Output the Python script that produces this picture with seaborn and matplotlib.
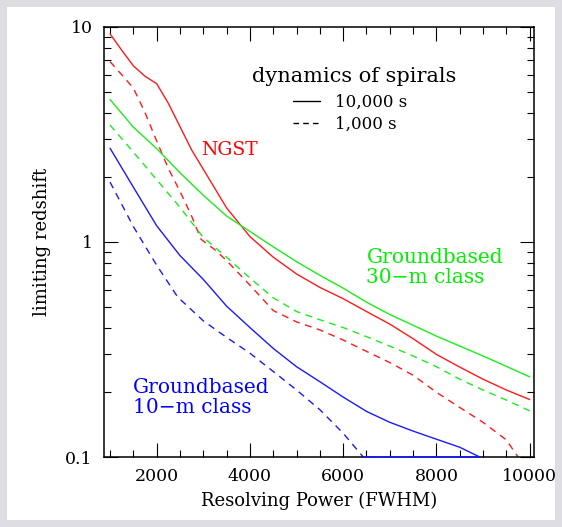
import numpy as np
import pandas as pd
import seaborn as sns
import matplotlib.pyplot as plt
from matplotlib.lines import Line2D
from matplotlib.patches import Rectangle
from matplotlib.ticker import MultipleLocator, FixedLocator, FixedFormatter, NullFormatter

# # Data (limiting redshift vs resolving power)
ngst_long_x = [1000, 1250, 1500, 1750, 2000, 2250, 2500, 2750, 3000, 3500, 4000, 4500,
               5000, 5500, 6000, 6500, 7000, 7500, 8000, 8500, 9000, 9500, 10000]
ngst_long_z = [9.3, 7.8, 6.6, 5.9, 5.45, 4.42, 3.44, 2.68, 2.18, 1.44, 1.06, 0.85,
               0.71, 0.615, 0.545, 0.475, 0.415, 0.355, 0.30, 0.262, 0.23, 0.205, 0.185]

ngst_short_x = [1000, 1250, 1500, 1750, 2000, 2250, 2500, 2750, 2950, 3250, 3500, 4000,
                4500, 5000, 5500, 6000, 6500, 7000, 7500, 8000, 8500, 9000, 9500, 9750]
ngst_short_z = [6.9, 6.0, 5.2, 4.0, 2.95, 2.2, 1.72, 1.32, 1.03, 0.92, 0.82, 0.63,
                0.48, 0.425, 0.39, 0.35, 0.31, 0.275, 0.24, 0.2, 0.17, 0.145, 0.12, 0.1]

gb30_x = [1000, 1500, 2000, 2500, 3000, 3500, 4000, 4500, 5000, 5500,
          6000, 6500, 7000, 7500, 8000, 8500, 9000, 9500, 10000]
gb30_long_z = [4.6, 3.42, 2.72, 2.1, 1.65, 1.32, 1.12, 0.95, 0.81, 0.70,
               0.61, 0.525, 0.46, 0.41, 0.365, 0.328, 0.295, 0.264, 0.236]
gb30_short_z = [3.5, 2.62, 1.95, 1.45, 1.05, 0.85, 0.68, 0.55, 0.475, 0.435,
                0.40, 0.363, 0.328, 0.295, 0.263, 0.23, 0.205, 0.184, 0.164]

gb10_long_x = [1000, 1500, 2000, 2500, 3000, 3500, 4000, 4500, 5000,
               5500, 6000, 6500, 7000, 7500, 8000, 8500, 8930]
gb10_long_z = [2.73, 1.8, 1.19, 0.865, 0.67, 0.503, 0.40, 0.32, 0.263,
               0.224, 0.19, 0.163, 0.145, 0.132, 0.121, 0.111, 0.1]

gb10_short_x = [1000, 1500, 2000, 2450, 3000, 3500, 4000, 4500, 5000, 5500, 6000, 6430]
gb10_short_z = [1.9, 1.18, 0.78, 0.555, 0.43, 0.36, 0.304, 0.25, 0.205, 0.166, 0.129, 0.1]

exposures = ["10,000 s", "1,000 s"]
colors = {"NGST": "#ff1a1a", "Groundbased 30-m": "#1aee1a", "Groundbased 10-m": "#1a1aff"}

frames = []
for tel, exp, xs, zs in [
    ("NGST", "10,000 s", ngst_long_x, ngst_long_z),
    ("NGST", "1,000 s", ngst_short_x, ngst_short_z),
    ("Groundbased 30-m", "10,000 s", gb30_x, gb30_long_z),
    ("Groundbased 30-m", "1,000 s", gb30_x, gb30_short_z),
    ("Groundbased 10-m", "10,000 s", gb10_long_x, gb10_long_z),
    ("Groundbased 10-m", "1,000 s", gb10_short_x, gb10_short_z),
]:
    frames.append(pd.DataFrame({"R": xs, "z": zs, "telescope": tel, "exposure": exp}))
df = pd.concat(frames, ignore_index=True)

sns.set_style("ticks")
plt.rcParams["font.family"] = ["DejaVu Serif"]
plt.rcParams["text.color"] = "black"
plt.rcParams["axes.labelcolor"] = "black"

fig = plt.figure(figsize=(5.62, 5.27), dpi=100)
fig.patch.set_facecolor("#dedde4")
fig.patches.append(Rectangle((0.0125, 0.0133), 0.975, 0.973, transform=fig.transFigure,
                             facecolor="white", edgecolor="none", zorder=-10))
ax = fig.add_axes([0.185, 0.1328, 0.765, 0.816])

sns.lineplot(data=df, x="R", y="z", hue="telescope", style="exposure",
             palette=colors, dashes={"10,000 s": "", "1,000 s": (5, 4)},
             estimator=None, sort=False, linewidth=1.0, legend=False, ax=ax)

# blue floor segment along the bottom axis
ax.hlines(0.1, gb10_short_x[-1], gb10_long_x[-1], color=colors["Groundbased 10-m"],
          lw=1.2, clip_on=False, zorder=5)

ax.set_yscale("log")
ax.set_xlim(870, 10090)
ax.set_ylim(0.1, 10)

ax.xaxis.set_major_locator(MultipleLocator(2000))
ax.xaxis.set_minor_locator(MultipleLocator(500))
ax.yaxis.set_major_locator(FixedLocator([0.1, 1, 10]))
ax.yaxis.set_major_formatter(FixedFormatter(["0.1", "1", "10"]))
ax.yaxis.set_minor_locator(FixedLocator([m * d for d in [0.1, 1] for m in range(2, 10)]))
ax.yaxis.set_minor_formatter(NullFormatter())

ax.tick_params(which="both", direction="in", top=True, right=True, colors="black",
               labelsize=12.5, width=0.8)
ax.tick_params(which="major", length=10, pad=8)
ax.tick_params(which="minor", length=5)
for s in ax.spines.values():
    s.set_linewidth(1.1)
    s.set_color("black")

ax.set_xlabel("Resolving Power (FWHM)", fontsize=13, labelpad=5)
ax.set_ylabel("limiting redshift", fontsize=13, labelpad=10)

ax.text(3550, 2.68, "NGST", color="#ff0000", fontsize=13.5, ha="center", va="center")
ax.text(6500, 0.76, "Groundbased\n30\u2212m class", color="#00ee00", fontsize=14.5,
        ha="left", va="center", linespacing=1.05)
ax.text(1490, 0.189, "Groundbased\n10\u2212m class", color="#0000ff", fontsize=14.5,
        ha="left", va="center", linespacing=1.05)

# legend: title as its own text, entries centred below it
ax.text(0.581, 0.884, "dynamics of spirals", transform=ax.transAxes,
        ha="center", va="center", fontsize=15, color="black")
handles = [Line2D([], [], color="black", lw=1.0),
           Line2D([], [], color="black", lw=1.0, dashes=(4, 3))]
leg = ax.legend(handles, exposures, frameon=False, loc="center",
                bbox_to_anchor=(0.572, 0.80), fontsize=12,
                handlelength=1.6, handletextpad=0.9, labelspacing=0.3)
for t in leg.get_texts():
    t.set_color("black")

fig.savefig("out.png", dpi=100, facecolor=fig.get_facecolor())
